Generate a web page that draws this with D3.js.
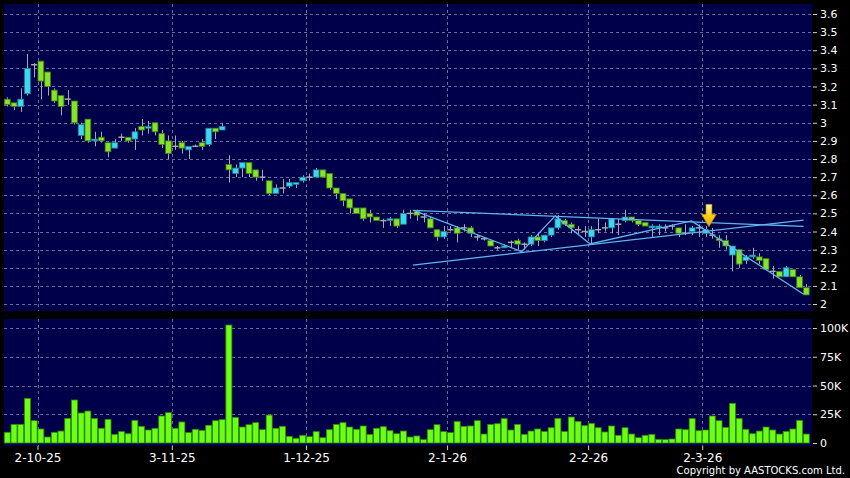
<!DOCTYPE html>
<html lang="en">
<head>
<meta charset="utf-8">
<title>Daily chart</title>
<script src="https://d3js.org/d3.v7.min.js"></script>
<style>
  html, body { margin: 0; padding: 0; background: #000; }
  #chart { width: 850px; height: 478px; }
  text { font-family: "DejaVu Sans", Verdana, sans-serif; fill: #fff; }
</style>
</head>
<body>
<div id="chart"></div>
<script>
// daily OHLC, oldest first (one entry per trading day)
const opens = [3.13,3.11,3.09,3.16,3.32,3.34,3.28,3.18,3.15,3.13,3.12,2.93,3.02,2.90,2.92,2.89,2.86,2.92,2.92,2.91,
  2.98,2.97,3.00,2.94,2.90,2.87,2.89,2.85,2.87,2.89,2.88,2.97,2.96,2.77,2.72,2.75,2.78,2.74,2.70,2.68,
  2.61,2.64,2.65,2.66,2.68,2.70,2.70,2.74,2.72,2.64,2.61,2.58,2.53,2.53,2.50,2.48,2.46,2.46,2.47,2.44,
  2.50,2.51,2.48,2.47,2.41,2.37,2.41,2.42,2.42,2.42,2.37,2.36,2.35,2.31,2.31,2.34,2.35,2.33,2.33,2.37,
  2.35,2.38,2.42,2.46,2.44,2.41,2.40,2.37,2.41,2.42,2.42,2.44,2.46,2.48,2.46,2.45,2.42,2.42,2.42,2.43,
  2.42,2.39,2.40,2.42,2.39,2.38,2.36,2.35,2.27,2.30,2.24,2.26,2.26,2.25,2.18,2.18,2.15,2.19,2.15,2.09];
const highs = [3.14,3.11,3.19,3.38,3.33,3.34,3.28,3.19,3.15,3.18,3.12,3.00,3.02,2.95,2.95,2.89,2.91,2.94,2.92,2.97,
  3.02,3.01,3.00,2.96,2.93,2.93,2.90,2.87,2.88,2.91,2.97,2.97,3.00,2.82,2.77,2.78,2.78,2.74,2.74,2.68,
  2.66,2.69,2.69,2.67,2.71,2.72,2.75,2.74,2.72,2.64,2.61,2.58,2.53,2.53,2.52,2.48,2.47,2.48,2.47,2.52,
  2.52,2.52,2.50,2.48,2.41,2.43,2.43,2.43,2.44,2.43,2.38,2.37,2.35,2.32,2.33,2.35,2.36,2.34,2.38,2.39,
  2.38,2.42,2.49,2.47,2.45,2.43,2.43,2.43,2.47,2.45,2.47,2.47,2.52,2.48,2.46,2.45,2.44,2.44,2.44,2.44,
  2.42,2.44,2.43,2.44,2.43,2.42,2.38,2.38,2.32,2.30,2.27,2.31,2.28,2.25,2.21,2.18,2.21,2.19,2.16,2.11];
const lows = [3.09,3.07,3.06,3.15,3.25,3.13,3.15,3.11,3.04,3.10,2.99,2.91,2.89,2.87,2.89,2.81,2.86,2.90,2.89,2.85,
  2.93,2.94,2.93,2.86,2.80,2.85,2.83,2.80,2.87,2.85,2.87,2.91,2.96,2.67,2.70,2.70,2.70,2.68,2.68,2.60,
  2.61,2.61,2.64,2.64,2.67,2.68,2.70,2.70,2.63,2.58,2.54,2.50,2.50,2.46,2.45,2.46,2.42,2.43,2.42,2.44,
  2.47,2.46,2.45,2.42,2.35,2.36,2.40,2.34,2.40,2.37,2.35,2.35,2.32,2.30,2.31,2.31,2.30,2.30,2.32,2.32,
  2.34,2.37,2.41,2.43,2.39,2.38,2.37,2.33,2.39,2.40,2.39,2.38,2.45,2.45,2.43,2.43,2.37,2.38,2.40,2.41,
  2.37,2.38,2.38,2.37,2.37,2.36,2.31,2.30,2.18,2.20,2.22,2.25,2.22,2.19,2.14,2.15,2.15,2.15,2.09,2.05];
const closes = [3.10,3.09,3.13,3.30,3.32,3.23,3.20,3.12,3.09,3.13,3.00,2.99,2.90,2.91,2.90,2.84,2.89,2.92,2.90,2.95,
  2.96,2.98,2.95,2.88,2.83,2.87,2.86,2.87,2.87,2.87,2.97,2.95,2.98,2.74,2.75,2.78,2.72,2.70,2.70,2.61,
  2.64,2.64,2.67,2.67,2.70,2.70,2.74,2.70,2.64,2.61,2.57,2.53,2.50,2.47,2.48,2.46,2.46,2.47,2.43,2.50,
  2.50,2.49,2.48,2.42,2.37,2.40,2.41,2.39,2.42,2.39,2.37,2.36,2.32,2.31,2.32,2.34,2.33,2.33,2.37,2.35,
  2.38,2.42,2.47,2.44,2.42,2.41,2.40,2.41,2.41,2.42,2.47,2.44,2.48,2.46,2.44,2.43,2.43,2.43,2.42,2.43,
  2.39,2.39,2.42,2.42,2.41,2.38,2.35,2.32,2.32,2.22,2.26,2.27,2.24,2.19,2.18,2.15,2.20,2.15,2.09,2.05];
const volumes = [9300,16200,16200,38800,19400,12200,5200,9300,10400,21400,37400,26100,27800,21400,12800,20600,7500,9900,8100,19700,
  14500,11300,12800,23500,26400,12800,18300,9000,11900,11000,15400,19400,20300,102600,22300,13900,15900,17700,11600,24300,
  12800,14500,5800,4100,6700,5500,9900,4600,11600,16200,17700,13900,11900,14800,7500,12800,14200,10700,8100,10400,
  5200,6100,2900,11600,15900,9900,9000,18800,14500,14800,19400,7800,16200,16800,21200,11300,16200,7500,10400,12200,
  9900,13300,21400,9900,22600,18800,15100,17100,13300,9600,14800,6700,13300,7800,4600,6700,7500,3200,2900,3500,
  12200,11600,21200,10700,11300,23500,19400,13600,34500,21200,11900,8100,10400,13900,11300,7800,10100,12200,19700,7800];

// date labels and the bar each one follows
const dateLabels = ["2-10-25", "3-11-25", "1-12-25", "2-1-26", "2-2-26", "2-3-26"];
const dateIndex = [4.5, 24.5, 44.5, 65.5, 86.5, 103.5];
const priceTicks = [2, 2.1, 2.2, 2.3, 2.4, 2.5, 2.6, 2.7, 2.8, 2.9, 3, 3.1, 3.2, 3.3, 3.4, 3.5, 3.6];
const volTicks = [0, 25000, 50000, 75000, 100000];

// drawn trend lines: [bar index, price] pairs
const upperLine = [[60.4, 2.516], [118.6, 2.428]];
const lowerLine = [[60.4, 2.215], [118.6, 2.463]];
const zigzag = [[60.8, 2.513], [76.6, 2.289], [81.6, 2.486], [86.8, 2.331], [101.9, 2.458], [118.6, 2.054]];
const arrowAt = [104.5, 2.55];

const W = 850, H = 478;
const svg = d3.select("#chart").append("svg").attr("width", W).attr("height", H);

const x = d3.scaleLinear().domain([-0.5, 119.5]).range([3.94, 809.66]);
const yP = d3.scaleLinear().domain([2, 3.6]).range([304, 14]);
const yV = d3.scaleLinear().domain([0, 100000]).range([443, 328]);

const navy = "#00004a";
const gridCol = "#6a6a9c";

svg.append("rect").attr("x", 4).attr("y", 4).attr("width", 808).attr("height", 307).attr("fill", navy);
svg.append("rect").attr("x", 4).attr("y", 319).attr("width", 808).attr("height", 127).attr("fill", navy);

// grid
const grid = svg.append("g").attr("stroke", gridCol).attr("stroke-dasharray", "3,3").attr("stroke-width", 1);
grid.selectAll(".hp").data(priceTicks).join("line")
  .attr("x1", 4).attr("x2", 812).attr("y1", d => Math.round(yP(d)) + 0.5).attr("y2", d => Math.round(yP(d)) + 0.5);
grid.selectAll(".hv").data(volTicks.slice(1)).join("line")
  .attr("x1", 4).attr("x2", 812).attr("y1", d => Math.round(yV(d)) + 0.5).attr("y2", d => Math.round(yV(d)) + 0.5);
dateIndex.forEach(d => {
  const xx = Math.round(x(d)) + 0.5;
  grid.append("line").attr("x1", xx).attr("x2", xx).attr("y1", 4).attr("y2", 311);
  grid.append("line").attr("x1", xx).attr("x2", xx).attr("y1", 319).attr("y2", 446);
});

// candles
const bars = d3.range(opens.length);
const cg = svg.append("g");
cg.selectAll(".wick").data(bars).join("line")
  .attr("x1", i => Math.round(x(i)) + 0.5).attr("x2", i => Math.round(x(i)) + 0.5)
  .attr("y1", i => yP(highs[i])).attr("y2", i => yP(lows[i]))
  .attr("stroke", "#a8a8b0").attr("stroke-width", 1);
const bw = 5.8;
cg.selectAll(".body").data(bars.filter(i => opens[i] !== closes[i])).join("rect")
  .attr("x", i => x(i) - bw / 2)
  .attr("y", i => yP(Math.max(opens[i], closes[i])))
  .attr("width", bw)
  .attr("height", i => Math.max(1.5, Math.abs(yP(opens[i]) - yP(closes[i]))))
  .attr("fill", i => closes[i] > opens[i] ? "#3ed6f0" : "#86e22a")
  .attr("stroke", i => closes[i] > opens[i] ? "#1d7f96" : "#3f7d12")
  .attr("stroke-width", 0.8);
cg.selectAll(".doji").data(bars.filter(i => opens[i] === closes[i])).join("line")
  .attr("x1", i => x(i) - 3).attr("x2", i => x(i) + 3)
  .attr("y1", i => yP(opens[i])).attr("y2", i => yP(opens[i]))
  .attr("stroke", "#a8a8b0").attr("stroke-width", 1.5);

// trend lines
const line = d3.line().x(d => x(d[0])).y(d => yP(d[1]));
const tl = svg.append("g").attr("fill", "none").attr("stroke", "#62b4ec").attr("stroke-width", 1.3);
[upperLine, lowerLine, zigzag].forEach(pts => tl.append("path").attr("d", line(pts)));

// arrow marker
const defs = svg.append("defs");
const grad = defs.append("linearGradient").attr("id", "arrowGrad").attr("x1", 0).attr("x2", 0).attr("y1", 0).attr("y2", 1);
grad.append("stop").attr("offset", "0%").attr("stop-color", "#fff6b0");
grad.append("stop").attr("offset", "45%").attr("stop-color", "#ffd21a");
grad.append("stop").attr("offset", "100%").attr("stop-color", "#e8a800");
const ax = x(arrowAt[0]), ay = yP(arrowAt[1]);
svg.append("path")
  .attr("d", `M${ax - 3},${ay} L${ax + 3},${ay} L${ax + 3},${ay + 10} L${ax + 7.5},${ay + 10} L${ax},${ay + 22.5} L${ax - 7.5},${ay + 10} L${ax - 3},${ay + 10} Z`)
  .attr("fill", "url(#arrowGrad)").attr("stroke", "#a77a00").attr("stroke-width", 0.6);

// volume
svg.append("g").selectAll("rect").data(bars).join("rect")
  .attr("x", i => x(i) - 3).attr("y", i => yV(volumes[i]))
  .attr("width", 6).attr("height", i => yV(0) - yV(volumes[i]))
  .attr("fill", "#6cff14").attr("stroke", "#2f8a00").attr("stroke-width", 0.8);

// right axes
const fmtP = d => d3.format("")(+d.toFixed(1));
const pAxis = svg.append("g").attr("transform", "translate(813,0)")
  .call(d3.axisRight(yP).tickValues(priceTicks).tickFormat(fmtP).tickSize(4).tickPadding(3));
const vAxis = svg.append("g").attr("transform", "translate(813,0)")
  .call(d3.axisRight(yV).tickValues(volTicks).tickFormat(d => d === 0 ? "0" : (d / 1000) + "K").tickSize(4).tickPadding(3));
[pAxis, vAxis].forEach(g => {
  g.select(".domain").remove();
  g.selectAll(".tick line").attr("stroke", "#cfcfcf");
  g.selectAll(".tick text").attr("font-size", 11).attr("font-family", "DejaVu Sans").attr("fill", "#fff");
});

// date axis
const dAxis = svg.append("g").attr("transform", "translate(0,446)")
  .call(d3.axisBottom(x).tickValues(dateIndex).tickFormat((d, i) => dateLabels[i]).tickSize(4).tickPadding(3));
dAxis.select(".domain").remove();
dAxis.selectAll(".tick line").attr("stroke", "#cfcfcf");
dAxis.selectAll(".tick text").attr("font-size", 12).attr("font-family", "DejaVu Sans").attr("fill", "#fff");

svg.append("text").attr("x", 845).attr("y", 474).attr("text-anchor", "end")
  .attr("font-size", 10).text("Copyright by AASTOCKS.com Ltd.");
</script>
</body>
</html>
